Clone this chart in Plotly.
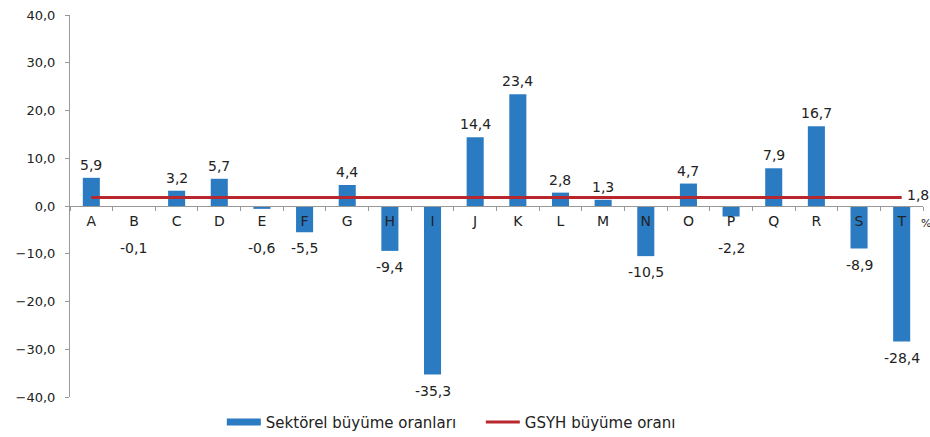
import plotly.graph_objects as go

categories = ["A", "B", "C", "D", "E", "F", "G", "H", "I", "J",
              "K", "L", "M", "N", "O", "P", "Q", "R", "S", "T"]
sector_growth = [5.9, -0.1, 3.2, 5.7, -0.6, -5.5, 4.4, -9.4, -35.3, 14.4,
                 23.4, 2.8, 1.3, -10.5, 4.7, -2.2, 7.9, 16.7, -8.9, -28.4]
gdp_growth = 1.8
y_ticks = [-40, -30, -20, -10, 0, 10, 20, 30, 40]

BAR = "#2B7BC2"
RED = "#B8262E"
FONT = "DejaVu Sans, Liberation Sans, sans-serif"
TXT = "#222"


def fmt(v):
    return f"{v:.1f}".replace(".", ",")


fig = go.Figure()
fig.add_trace(go.Bar(
    x=categories, y=sector_growth, name="Sektörel büyüme oranları",
    marker=dict(color=BAR, line=dict(width=0)), showlegend=False,
))
# legend-only entry drawn as a wide patch like the original legend
fig.add_trace(go.Scatter(
    x=[None], y=[None], name="Sektörel büyüme oranları",
    mode="lines", line=dict(color=BAR, width=7),
))
fig.add_trace(go.Scatter(
    x=categories, y=[gdp_growth] * len(categories), name="GSYH büyüme oranı",
    mode="lines", line=dict(color=RED, width=3),
))

annotations = []
for c, v in zip(categories, sector_growth):
    if v >= 0:
        annotations.append(dict(x=c, y=v, text=fmt(v), showarrow=False,
                                yanchor="bottom", yshift=3,
                                font=dict(family=FONT, size=14, color=TXT)))
    else:
        annotations.append(dict(x=c, y=min(v, -5.5), text=fmt(v), showarrow=False,
                                yanchor="top", yshift=-6,
                                font=dict(family=FONT, size=14, color=TXT)))
annotations.append(dict(x=categories[-1], y=gdp_growth, text=fmt(gdp_growth),
                        showarrow=False, xanchor="left", xshift=3,
                        yanchor="middle", yshift=2,
                        font=dict(family=FONT, size=14, color=TXT)))
annotations.append(dict(x=categories[-1], y=0, text="%", showarrow=False,
                        xanchor="left", xshift=17, yanchor="middle", yshift=-17,
                        font=dict(family=FONT, size=11, color=TXT)))

fig.update_layout(
    width=930, height=437,
    margin=dict(l=70, r=7, t=15, b=40, autoexpand=False),
    paper_bgcolor="white", plot_bgcolor="white",
    separators=",.",
    bargap=0.6,
    font=dict(family=FONT, size=13, color=TXT),
    showlegend=True,
    legend=dict(orientation="h", xref="container", yref="container",
                x=0.517, xanchor="center", y=0.034, yanchor="middle",
                font=dict(family=FONT, size=15, color=TXT),
                itemwidth=34, entrywidth=210, entrywidthmode="pixels",
                traceorder="normal"),
    annotations=annotations,
    xaxis=dict(
        type="category", range=[-0.5, len(categories) - 0.5],
        anchor="free", position=0.5,
        showline=True, linecolor="#999", linewidth=1,
        ticks="outside", tickson="boundaries", ticklen=4, tickcolor="#999",
        showgrid=False, zeroline=False,
        tickfont=dict(family=FONT, size=14, color=TXT),
        ticklabelstandoff=2,
    ),
    yaxis=dict(
        range=[-40, 40], tickvals=y_ticks, tickformat=".1f",
        showline=True, linecolor="#999", linewidth=1,
        ticks="outside", ticklen=4, tickcolor="#999",
        showgrid=False, zeroline=False, ticklabeloverflow="allow",
        tickfont=dict(family=FONT, size=13, color=TXT),
        ticklabelstandoff=7,
    ),
)

fig.write_html(
    "out.html",
    config={"displayModeBar": False},
    post_script="document.body.style.margin='0';document.body.style.overflow='hidden';",
)
